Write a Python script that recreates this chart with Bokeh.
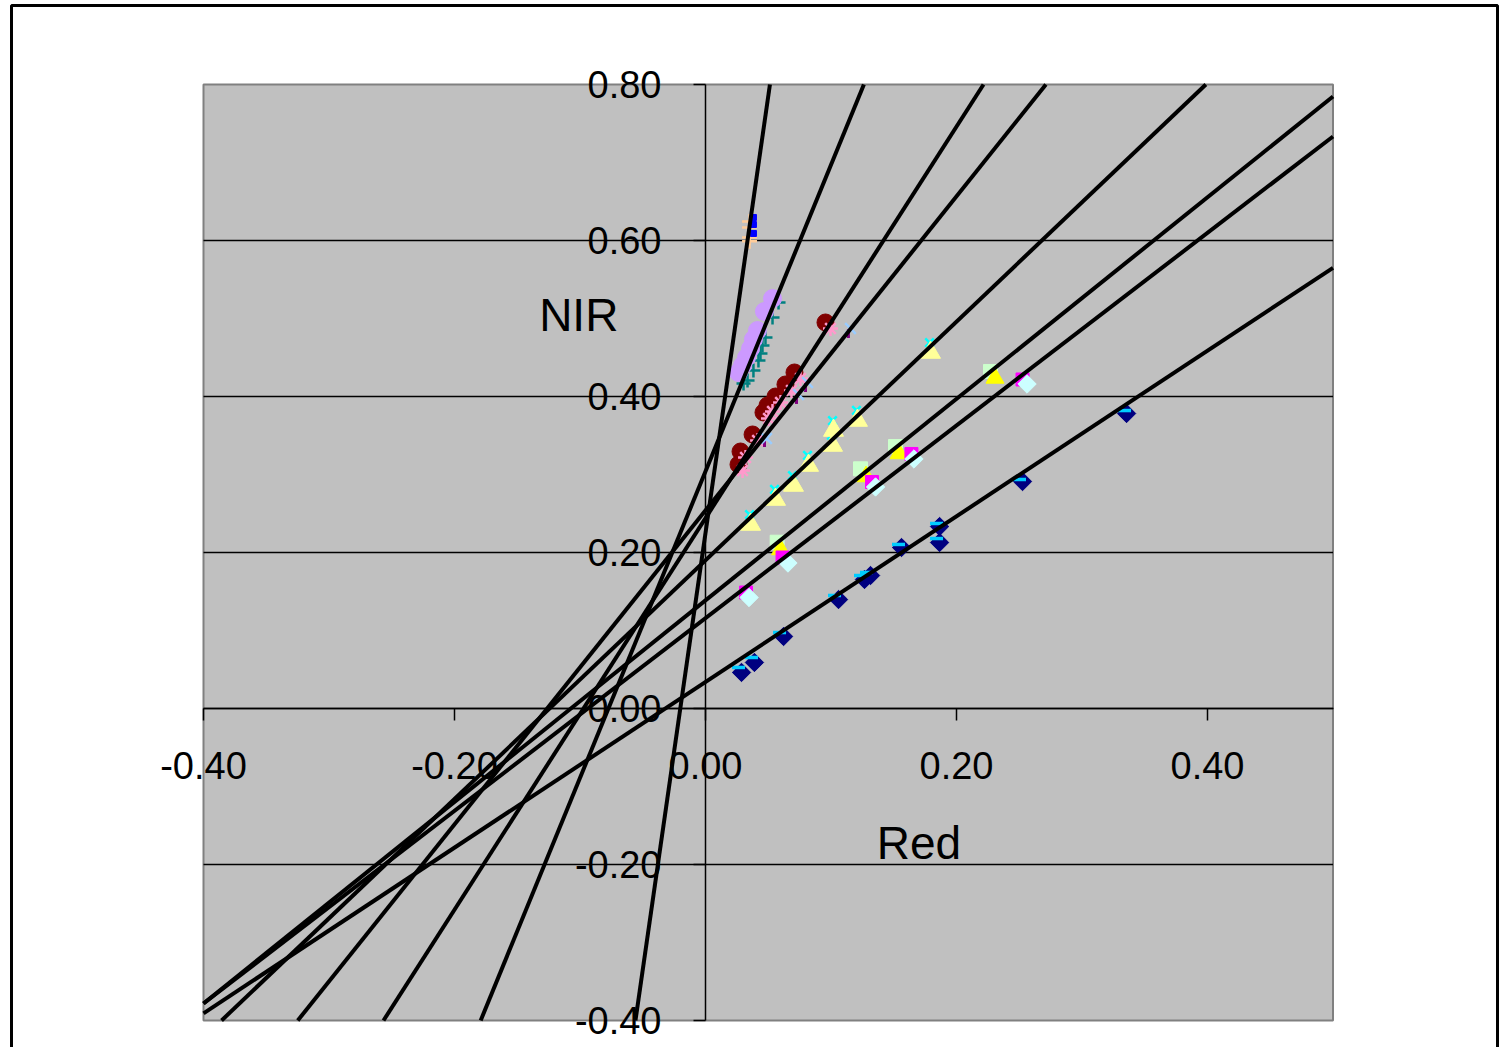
import math
from bokeh.plotting import figure
from bokeh.models import FixedTicker, PrintfTickFormatter, Label, BoxAnnotation
from bokeh.embed import file_html
from bokeh.resources import INLINE

# ---------------- data ----------------
X_MIN, X_MAX = -0.40, 0.50
Y_MIN, Y_MAX = -0.40, 0.80
x_ticks = [-0.40, -0.20, 0.00, 0.20, 0.40]
y_ticks = [-0.40, -0.20, 0.00, 0.20, 0.40, 0.60, 0.80]
grid_ticks = [-0.20, 0.00, 0.20, 0.40, 0.60]

# group A : blue squares + orange plus
a_x = [0.0382, 0.0382, 0.0382]
a_y = [0.6295, 0.6205, 0.6090]
a2_x = [0.0351, 0.0351, 0.0351, 0.0351]
a2_y = [0.6244, 0.6167, 0.6038, 0.5990]

# group B : lavender circles + teal plus
b_x = [0.0534, 0.0470, 0.0414, 0.0382, 0.0359, 0.0327, 0.0295, 0.0263]
b_y = [0.5256, 0.5090, 0.4846, 0.4731, 0.4615, 0.4500, 0.4397, 0.4308]
b2_x = [0.0582, 0.0534, 0.0478, 0.0454, 0.0438, 0.0422, 0.0382, 0.0335, 0.0303]
b2_y = [0.5205, 0.5013, 0.4756, 0.4654, 0.4551, 0.4462, 0.4333, 0.4205, 0.4167]

# group C : dark red circles + pink asterisks
c_x = [0.0956, 0.0709, 0.0637, 0.0558, 0.0494, 0.0462, 0.0375, 0.0279, 0.0263]
c_y = [0.4949, 0.4308, 0.4154, 0.4000, 0.3885, 0.3795, 0.3513, 0.3295, 0.3128]
c2_x = [0.0996, 0.0757, 0.0685, 0.0598, 0.0534, 0.0502, 0.0415, 0.0319, 0.0295]
c2_y = [0.4872, 0.4231, 0.4077, 0.3923, 0.3808, 0.3718, 0.3436, 0.3218, 0.3051]

# group D : light blue x + purple bars
d_x = [0.1155, 0.0813, 0.0741, 0.0486]
d_y = [0.4872, 0.4179, 0.4026, 0.3462]
d2_x = [0.1139, 0.0797, 0.0725, 0.0470]
d2_y = [0.4808, 0.4115, 0.3962, 0.3410]

# group E : light yellow triangles + cyan x
e_x = [0.0359, 0.0558, 0.0701, 0.0821, 0.1012, 0.1020, 0.1211, 0.1793]
e_y = [0.2359, 0.2679, 0.2859, 0.3115, 0.3372, 0.3564, 0.3692, 0.4564]
e2_x = [0.0351, 0.0550, 0.0693, 0.0813, 0.1004, 0.1012, 0.1203, 0.1785]
e2_y = [0.2487, 0.2808, 0.2987, 0.3244, 0.3500, 0.3692, 0.3821, 0.4692]

# group F : pale green squares + yellow triangles
f2_x = [0.0571, 0.1235, 0.1514, 0.2271]
f2_y = [0.2132, 0.3073, 0.3359, 0.4321]
f_x = [0.0598, 0.1279, 0.1542, 0.2307]
f_y = [0.2038, 0.2974, 0.3269, 0.4237]

# group G : magenta squares + light cyan diamonds
g2_x = [0.0323, 0.0614, 0.1327, 0.1641, 0.2526]
g2_y = [0.1487, 0.1936, 0.2904, 0.3263, 0.4218]
g_x = [0.0347, 0.0657, 0.1355, 0.1661, 0.2562]
g_y = [0.1423, 0.1865, 0.2840, 0.3199, 0.4160]

# group H : navy diamonds + sky-blue dashes
h_x = [0.0287, 0.0390, 0.0622, 0.1060, 0.1267, 0.1315, 0.1562, 0.1865, 0.1865, 0.2526, 0.3355]
h_y = [0.0462, 0.0590, 0.0923, 0.1397, 0.1654, 0.1705, 0.2064, 0.2128, 0.2333, 0.2910, 0.3782]
h2_x = [0.0263, 0.0367, 0.0590, 0.1028, 0.1235, 0.1283, 0.1538, 0.1841, 0.1841, 0.2502, 0.3339]
h2_y = [0.0526, 0.0654, 0.0974, 0.1449, 0.1705, 0.1744, 0.2103, 0.2179, 0.2372, 0.2936, 0.3820]

# trend lines (slope, intercept)
line_slopes = [11.20, 3.93, 2.51, 2.013, 1.530, 1.292, 1.235, 1.062]
line_intercepts = [0.225, 0.304, 0.244, 0.254, 0.190, 0.1386, 0.1158, 0.034]

# ---------------- figure (frame covers the whole canvas) ----------------
W, H = 1501, 1047
VIEW_X = (-0.56175, 0.63426)   # visible extent so that the plot area sits where it should
VIEW_Y = (-0.43462, 0.90769)
FONT = "Liberation Sans"

p = figure(width=W, height=H, x_range=VIEW_X, y_range=VIEW_Y,
           output_backend="svg", toolbar_location=None,
           min_border_left=0, min_border_right=0, min_border_top=0, min_border_bottom=0)
p.background_fill_color = "white"
p.border_fill_color = "white"
p.outline_line_color = None
p.xgrid.visible = False
p.ygrid.visible = False

# plot area
p.add_layout(BoxAnnotation(left=X_MIN, right=X_MAX, bottom=Y_MIN, top=Y_MAX,
                           fill_color="#C0C0C0", fill_alpha=1.0,
                           line_color="#808080", line_width=2, line_alpha=1.0,
                           level="underlay"))

# horizontal gridlines inside the plot area
p.segment(x0=[X_MIN] * len(grid_ticks), x1=[X_MAX] * len(grid_ticks),
          y0=grid_ticks, y1=grid_ticks, line_color="black", line_width=1.5)

for ax, ticks, bnds in ((p.xaxis, x_ticks, (X_MIN, X_MAX)), (p.yaxis, y_ticks, (Y_MIN, Y_MAX))):
    ax.fixed_location = 0
    ax.bounds = bnds
    ax.ticker = FixedTicker(ticks=ticks)
    ax.formatter = PrintfTickFormatter(format="%.2f")
    ax.axis_line_color = "black"
    ax.axis_line_width = 1.5
    ax.major_tick_line_color = "black"
    ax.major_tick_line_width = 1.5
    ax.major_tick_in = 0
    ax.minor_tick_line_color = None
    ax.major_label_text_font = FONT
    ax.major_label_text_font_size = "38px"
    ax.major_label_text_color = "black"
p.xaxis.major_tick_out = 12
p.xaxis.major_label_standoff = 32
p.yaxis.major_tick_out = 12
p.yaxis.major_label_standoff = 32

# ---------------- markers ----------------
q = math.pi / 4
p.scatter(a2_x, a2_y, marker="cross", size=15, line_color="#FFCC99", line_width=2.5)
p.scatter(a_x, a_y, marker="square", size=6, fill_color="#0000FF", line_color="#0000FF")

p.scatter(b2_x, b2_y, marker="cross", size=14, line_color="#008080", line_width=2.5)
p.scatter(b_x, b_y, marker="circle", size=18, fill_color="#CC99FF", line_color="#CC99FF")

p.scatter(c_x, c_y, marker="circle", size=17, fill_color="#800000", line_color="#800000")
p.scatter(c2_x, c2_y, marker="asterisk", size=15, line_color="#FF99CC", line_width=2.5)

p.scatter(d2_x, d2_y, marker="dash", size=9, angle=math.pi / 2, line_color="#800080", line_width=3)
p.scatter(d_x, d_y, marker="x", size=15, line_color="#99CCFF", line_width=2.5)

p.scatter(e2_x, e2_y, marker="x", size=12, line_color="#00FFFF", line_width=2.5)
p.scatter(e_x, e_y, marker="triangle", size=20, fill_color="#FFFF99", line_color="#FFFF99")

p.scatter(f2_x, f2_y, marker="square", size=14, fill_color="#CCFFCC", line_color="#CCFFCC")
p.scatter(f_x, f_y, marker="triangle", size=18, fill_color="#FFFF00", line_color="#FFFF00")

p.scatter(g2_x, g2_y, marker="square", size=13, fill_color="#FF00FF", line_color="#FF00FF")
p.scatter(g_x, g_y, marker="square", size=13, angle=q, fill_color="#CCFFFF", line_color="#CCFFFF")

p.scatter(h_x, h_y, marker="square", size=13, angle=q, fill_color="#000080", line_color="#000080")
p.scatter(h2_x, h2_y, marker="dash", size=13, line_color="#00CCFF", line_width=3.5)

# ---------------- trend lines, clipped to the plot area ----------------
for s, i in zip(line_slopes, line_intercepts):
    x_lo = max(X_MIN, (Y_MIN - i) / s)
    x_hi = min(X_MAX, (Y_MAX - i) / s)
    p.line([x_lo, x_hi], [i + s * x_lo, i + s * x_hi], line_color="black", line_width=4)

# ---------------- titles ----------------
p.add_layout(Label(x=-0.101, y=0.505, text="NIR", text_font=FONT, text_font_size="46px",
                   text_align="center", text_baseline="middle", text_color="black"))
p.add_layout(Label(x=0.170, y=-0.173, text="Red", text_font=FONT, text_font_size="46px",
                   text_align="center", text_baseline="middle", text_color="black"))

# outer chart-area frame
p.add_layout(BoxAnnotation(left=11, right=1497, top=5, bottom=1080,
                           left_units="canvas", right_units="canvas",
                           top_units="canvas", bottom_units="canvas",
                           fill_alpha=0, line_color="black", line_width=3, line_alpha=1.0,
                           level="overlay"))

open("out.html", "w").write(file_html(p, INLINE))
